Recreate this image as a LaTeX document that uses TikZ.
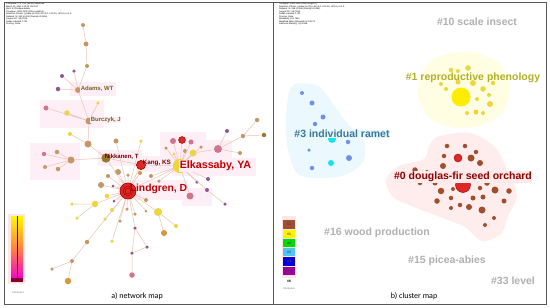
\documentclass[tikz,border=0pt]{standalone}
\usepackage{fontspec}
\setmainfont{Liberation Sans}
\newfontfamily\capfont{Carlito}
\usepackage{xcolor}

\definecolor{tanc}{RGB}{198,150,104}
\definecolor{ylwc}{RGB}{236,214,58}
\definecolor{pnkc}{RGB}{208,118,138}
\definecolor{purc}{RGB}{146,84,150}
\definecolor{redc}{RGB}{222,40,36}
\definecolor{olvc}{RGB}{150,120,50}
\definecolor{orgc}{RGB}{214,150,60}
\definecolor{edgec}{RGB}{234,196,180}
\definecolor{halo}{RGB}{254,238,246}
\definecolor{brnc}{RGB}{160,78,44}
\definecolor{bluc}{RGB}{112,146,228}
\definecolor{cyac}{RGB}{20,228,240}
\definecolor{grayl}{RGB}{176,176,176}
\definecolor{tealc}{RGB}{60,120,150}
\definecolor{khak}{RGB}{178,176,40}

\begin{document}
\begin{tikzpicture}[x=1pt,y=-1pt,
    tn/.style={circle,fill=tanc,inner sep=0pt,minimum size=#1},
    yl/.style={circle,fill=ylwc,inner sep=0pt,minimum size=#1},
    pk/.style={circle,fill=pnkc,inner sep=0pt,minimum size=#1},
    pu/.style={circle,fill=purc,inner sep=0pt,minimum size=#1},
    rd/.style={circle,fill=redc,draw=red!60!black,line width=0.4pt,inner sep=0pt,minimum size=#1},
    ol/.style={circle,fill=olvc,inner sep=0pt,minimum size=#1},
    og/.style={circle,fill=orgc,inner sep=0pt,minimum size=#1},
    bn/.style={circle,fill=brnc,inner sep=0pt,minimum size=#1},
    bl/.style={circle,fill=bluc,inner sep=0pt,minimum size=#1},
    cy/.style={circle,fill=cyac,inner sep=0pt,minimum size=#1},
    edge/.style={draw=edgec,line width=0.5pt},
    lab/.style={font=\bfseries\fontsize{#1}{#1}\selectfont,inner sep=0.6pt},
    head/.style={font=\fontsize{2.2}{2.5}\selectfont,align=left,anchor=north west,inner sep=0pt},
    keybox/.style={fill=#1,minimum width=12pt,minimum height=8.6pt,inner sep=0pt,
        font=\bfseries\fontsize{3.4}{3.4}\selectfont,text=black!70}]

\useasboundingbox (0,0) rectangle (550,308);
\fill[white] (0,0) rectangle (550,308);

% pale halos of the network map
\fill[halo] (30,143) rectangle (80,180);
\fill[halo] (40,100) rectangle (104,128);
\fill[halo] (70,82) rectangle (116,96);
\fill[halo] (160,132) rectangle (206,160);
\fill[halo] (206,140) rectangle (232,160);
\fill[halo] (98,150) rectangle (142,166);
\fill[halo] (118,180) rectangle (188,200);
\fill[halo] (172,158) rectangle (256,176);
\fill[halo] (136,156) rectangle (178,172);
\fill[halo] (182,188) rectangle (212,206);

% cluster areas of the cluster map
\fill[yellow!11] plot[smooth cycle] coordinates {(440,56) (470,52) (497,62) (510,85) (503,112) (481,125) (455,128) (430,118) (418,95) (423,70)};
\fill[cyan!8] plot[smooth cycle] coordinates {(292,86) (318,86) (333,104) (348,124) (364,140) (363,162) (345,175) (320,178) (298,174) (288,150) (286,118)};
\fill[red!7] plot[smooth cycle] coordinates {(440,136) (470,133) (495,147) (507,170) (517,195) (508,216) (501,234) (482,241) (465,227) (440,217) (414,207) (393,197) (386,180) (399,166) (424,159) (430,144)};

% headers
\node[head] (hda) at (6,3) {CiteSpace, v. 5.7.R2 (64-bit) Advanced\\
  March 10, 2021 3:10:23 PM CST\\
  WoS: E:{\textbackslash}CiteSpace{\textbackslash}data\\
  Timespan: 1990-2020 (Slice Length=1)\\
  Selection Criteria: g-index (k=25), LRF=3.0, L/N=10, LBY=5, e=1.0\\
  Network: N=130, E=190 (Density=0.0226)\\
  Largest CC: 98 (75\%)\\
  Nodes Labeled: 1.0\%\\
  Pruning: None};
\node[head] (hdb) at (279,3) {Timespan: 1990-2020 (Slice Length=1)\\
  Selection Criteria: g-index (k=25), LRF=3.0, L/N=10, LBY=5, e=1.0\\
  Network: N=148, E=306 (Density=0.0281)\\
  Largest CC: 58 (39\%)\\
  Nodes Labeled: 1.0\%\\
  Pruning: None\\
  Modularity Q=0.7812\\
  Weighted Mean Silhouette S=0.9271\\
  Harmonic Mean(Q, S)=0.848};

% network map nodes
\node (t1) at (83,25) [tn=4] {};
\node (t2) at (86,44) [tn=5] {};
\node (t3) at (87,66) [tn=4] {};
\node (t4) at (74,71) [pu=3.5] {};
\node (t5) at (62,76) [pu=4] {};
\node (t6) at (58,89) [pu=4.5] {};
\node (adams) at (78,90) [tn=6] {};
\node (b1) at (46,108) [pk=5] {};
\node (b2) at (67,113) [yl=5.5] {};
\node (b3) at (98,103) [yl=3.5] {};
\node (burc) at (89,121) [tn=7] {};
\node (b4) at (70,134) [yl=4] {};
\node (b5) at (88,144) [tn=7] {};
\node (b6) at (116,141) [tn=5] {};
\node (b7) at (141,141) [yl=3.5] {};
\node (l1) at (44,154) [pk=4.5] {};
\node (l2) at (57,152) [tn=4.5] {};
\node (l3) at (71,160) [tn=7] {};
\node (l4) at (45,167) [tn=4] {};
\node (l5) at (58,169) [tn=4.5] {};
\node (nikk) at (106,158) [ol=9] {};
\node (kang) at (141,165) [rd=9] {};
\node (elk) at (180,166) [yl=14] {};
\node (lind) at (128,191) [rd=16] {};
\node (e1) at (173,141) [pk=6] {};
\node (e2) at (182,140) [rd=7] {};
\node (e3) at (191,142) [pk=5] {};
\node (e4) at (166,148) [tn=3.5] {};
\node (e5) at (185,151) [tn=4] {};
\node (e6) at (193,153) [yl=7] {};
\node (e7) at (201,147) [tn=3.5] {};
\node (e8) at (174,154) [yl=3] {};
\node (r1) at (218,149) [pk=8] {};
\node (r2) at (227,131) [pu=4] {};
\node (r3) at (243,136) [tn=4.5] {};
\node (r4) at (257,120) [tn=4.5] {};
\node (r5) at (264,135) [ol=4.5] {};
\node (r6) at (240,153) [tn=4] {};
\node (s1) at (197,182) [pu=3.5] {};
\node (s2) at (208,179) [pu=4] {};
\node (s3) at (207,190) [pu=4] {};
\node (s4) at (190,196) [pk=7] {};
\node (s5) at (225,204) [pu=3.5] {};
\node (m1) at (118,172) [tn=6] {};
\node (m2) at (108,176) [tn=4] {};
\node (m3) at (128,175) [tn=3.5] {};
\node (m4) at (140,173) [og=4] {};
\node (m5) at (151,176) [tn=4] {};
\node (m6) at (159,181) [tn=3.5] {};
\node (m7) at (101,185) [tn=6] {};
\node (m8) at (113,186) [pu=3] {};
\node (m9) at (107,196) [yl=4.5] {};
\node (m10) at (114,201) [pu=3] {};
\node (m11) at (146,200) [tn=4] {};
\node (m12) at (95,204) [yl=6.5] {};
\node (m13) at (72,204) [yl=3.5] {};
\node (m14) at (112,210) [yl=4] {};
\node (m15) at (127,209) [tn=3.5] {};
\node (m16) at (135,214) [tn=3.5] {};
\node (m17) at (158,212) [yl=8] {};
\node (m18) at (146,211) [tn=3] {};
\node (m19) at (120,221) [tn=3.5] {};
\node (m20) at (105,219) [yl=3.5] {};
\node (m21) at (77,218) [yl=3.5] {};
\node (m22) at (176,226) [yl=4] {};
\node (m23) at (164,233) [og=6] {};
\node (p1) at (135,228) [pu=3.5] {};
\node (p2) at (147,247) [pu=3.5] {};
\node (p3) at (132,253) [pu=3.5] {};
\node (p4) at (132,275) [pk=5.5] {};
\node (m24) at (112,241) [yl=3.5] {};
\node (m25) at (87,242) [tn=4.5] {};
\node (m26) at (72,261) [tn=4] {};
\node (m27) at (52,269) [tn=3.5] {};
\node (m28) at (68,281) [og=6.5] {};

\draw[edge] (t1) -- (t2) (t2) -- (t3) (t3) -- (adams) (t4) -- (adams) (t5) -- (adams) (t6) -- (adams)
    (adams) -- (burc) (b1) -- (burc) (b2) -- (burc) (b3) -- (burc) (burc) -- (b5) (b4) -- (b5)
    (b5) -- (nikk) (nikk) -- (l3) (l3) -- (l1) (l3) -- (l2) (l3) -- (l4) (l3) -- (l5)
    (nikk) -- (lind) (nikk) -- (kang) (kang) -- (elk) (kang) -- (lind) (elk) -- (lind)
    (b6) -- (lind) (b7) -- (lind)
    (elk) -- (e1) (elk) -- (e2) (elk) -- (e3) (elk) -- (e4) (elk) -- (e5) (elk) -- (e6) (elk) -- (e7) (elk) -- (e8)
    (e6) -- (r1) (r1) -- (r2) (r1) -- (r6) (r1) -- (r3) (r3) -- (r4) (r3) -- (r5)
    (elk) -- (s1) (elk) -- (s2) (elk) -- (s3) (s3) -- (s5) (elk) -- (s4) (elk) -- (m5) (elk) -- (m6)
    (lind) -- (m1) (lind) -- (m2) (lind) -- (m3) (lind) -- (m4) (lind) -- (m7) (lind) -- (m8) (lind) -- (m9)
    (lind) -- (m10) (lind) -- (m11) (lind) -- (m12) (lind) -- (m14) (lind) -- (m15) (lind) -- (m16)
    (lind) -- (m17) (lind) -- (m18) (lind) -- (m19) (lind) -- (m20) (lind) -- (p1) (lind) -- (m24) (lind) -- (m25)
    (m12) -- (m13) (m12) -- (m21) (m17) -- (m22) (m17) -- (m23)
    (p1) -- (p2) (p1) -- (p3) (p2) -- (p3) (p3) -- (p4)
    (m25) -- (m26) (m26) -- (m27) (m26) -- (m28);

% redraw the hubs on top of their edges
\node at (nikk) [ol=9] {};
\node at (kang) [rd=9] {};
\node at (elk) [yl=14] {};
\node at (lind) [rd=16] {};
\draw[red!55!black,line width=0.4pt] (lind) circle (5pt) (lind) circle (3pt);

% network map labels
\node (ladams) at (80,89) [lab=6,anchor=west,text=olvc!80!black,fill=halo] {Adams, WT};
\node (lburc) at (90,120) [lab=6,anchor=west,text=olvc!80!black,fill=halo] {Burczyk, J};
\node (lnikk) at (104,157) [lab=6,anchor=west,text=red!45!black] {Nikkanen, T};
\node (lkang) at (142,163) [lab=6.3,anchor=west,text=red!45!black] {Kang, KS};
\node (lelk) at (179,166) [lab=10.7,anchor=west,text=red!75!black,fill=halo] {Elkassaby, YA};
\node (llind) at (129,189) [lab=10.3,anchor=west,text=red!75!black] {Lindgren, D};

% colour bar and logo
\fill[pink!40] (8,214) rectangle (25,284);
\shade[top color=yellow!95!orange,bottom color=magenta!75!purple,middle color=orange!70!red!75] (11,216) rectangle (23,280);
\fill[purple!70!black] (11,278) rectangle (23,282);
\draw[red!40!black,line width=0.6pt] (17,216) -- (17,280);
\node (loga) at (18,293) [font=\fontsize{2.6}{2.6}\selectfont,text=gray] {CiteSpace};

% cluster map: #1
\node (y1) at (451,70) [yl=4.5] {};
\node (y2) at (458,71) [yl=4] {};
\node (y3) at (468,68) [yl=5.5] {};
\node (y4) at (441,84) [yl=4] {};
\node (y5) at (446,89) [yl=4] {};
\node (y6) at (458,82) [yl=5] {};
\node (y7) at (473,83) [yl=6] {};
\node (y8) at (483,89) [yl=5.5] {};
\node (y9) at (493,83) [yl=4.5] {};
\node (ybig) at (461,97) [circle,fill=yellow!95!orange,inner sep=0pt,minimum size=19] {};
\node (y10) at (477,99) [yl=4] {};
\node (y11) at (489,95) [yl=4] {};
\node (y12) at (490,104) [yl=6] {};
\node (y13) at (467,113) [yl=4] {};
\node (y14) at (476,112) [yl=5] {};
\node (y15) at (483,113) [yl=4] {};

% cluster map: #3
\node (c1) at (302,93) [bl=4] {};
\node (c2) at (312,103) [bl=5] {};
\node (c3) at (323,117) [bl=5] {};
\node (c4) at (315,124) [bl=4.5] {};
\node (c5) at (302,135) [bl=3.5] {};
\node (c6) at (332,139) [cy=8] {};
\node (c7) at (348,142) [bl=4.5] {};
\node (c8) at (309,150) [bl=3.5] {};
\node (c9) at (312,168) [bl=4.5] {};
\node (c10) at (331,163) [cy=6] {};
\node (c11) at (349,158) [bl=6] {};

% cluster map: #0
\node (d1) at (447,146) [bn=4.5] {};
\node (d2) at (465,146) [bn=4.5] {};
\node (d3) at (476,152) [bn=4.5] {};
\node (d4) at (458,158) [rd=8] {};
\node (d5) at (471,158) [bn=7] {};
\node (d6) at (444,156) [bn=4.5] {};
\node (d7) at (480,163) [bn=6] {};
\node (d8) at (443,166) [bn=6] {};
\node (d9) at (415,170) [bn=5.5] {};
\node (d10) at (427,172) [bn=4] {};
\node (d11) at (463,185) [rd=15] {};
\node (d12) at (487,183) [bn=5.5] {};
\node (d13) at (420,183) [bn=4.5] {};
\node (d14) at (435,183) [bn=5] {};
\node (d15) at (495,190) [bn=7] {};
\node (d16) at (480,188) [bn=4.5] {};
\node (d17) at (441,191) [bn=6.5] {};
\node (d18) at (509,191) [bn=5.5] {};
\node (d19) at (453,189) [bn=4] {};
\node (d20) at (451,198) [bn=4.5] {};
\node (d21) at (473,198) [bn=5] {};
\node (d22) at (483,197) [bn=5] {};
\node (d23) at (437,201) [bn=5.5] {};
\node (d24) at (460,205) [bn=4.5] {};
\node (d25) at (469,207) [bn=6] {};
\node (d26) at (451,208) [bn=4] {};
\node (d27) at (482,210) [bn=7] {};
\node (d28) at (504,201) [bn=5] {};
\node (d29) at (494,218) [bn=4] {};
\node (d30) at (485,225) [bn=4] {};

% cluster map labels
\node (k10) at (477,22) [lab=10.5,text=grayl] {\#10 scale insect};
\node (k1) at (473,78) [lab=10.5,text=khak] {\#1 reproductive phenology};
\node (k3) at (342,134) [lab=10.5,text=tealc,fill=cyan!10] {\#3 individual ramet};
\node (k0) at (463,177) [lab=10.5,text=red!55!black,fill=pink!35] {\#0 douglas-fir seed orchard};
\node (k16) at (377,233) [lab=10.5,text=grayl] {\#16 wood production};
\node (k15) at (447,261) [lab=10.5,text=grayl] {\#15 picea-abies};
\node (k33) at (513,281) [lab=10.5,text=grayl] {\#33 level};

% cluster legend and logo
\fill[pink!40] (282,216) rectangle (296,278);
\node (g0) at (289,224.5) [keybox=brnc] {\#0};
\node (g1) at (289,234) [keybox=yellow] {\#1};
\node (g2) at (289,243) [keybox=green!85!black] {\#2};
\node (g3) at (289,252) [keybox=cyan!70] {\#3};
\node (g4) at (289,261.5) [keybox=blue!85!black] {\#4};
\node (g5) at (289,271) [keybox=violet!80!magenta] {\#5};
\node (g6) at (289,281) [font=\bfseries\fontsize{3.4}{3.4}\selectfont,inner sep=0pt] {\#6};
\node (logb) at (289,289) [font=\fontsize{2.6}{2.6}\selectfont,text=gray] {CiteSpace};

% captions and frames
\node (capa) at (137,296) [font=\capfont\fontsize{8}{8}\selectfont] {a) network map};
\node (capb) at (414,296) [font=\capfont\fontsize{8}{8}\selectfont] {b) cluster map};
\draw[black!65,line width=0.9pt] (4,2) rectangle (546,304);
\draw[black!65,line width=0.9pt] (273,2) -- (273,304);
\end{tikzpicture}
\end{document}
